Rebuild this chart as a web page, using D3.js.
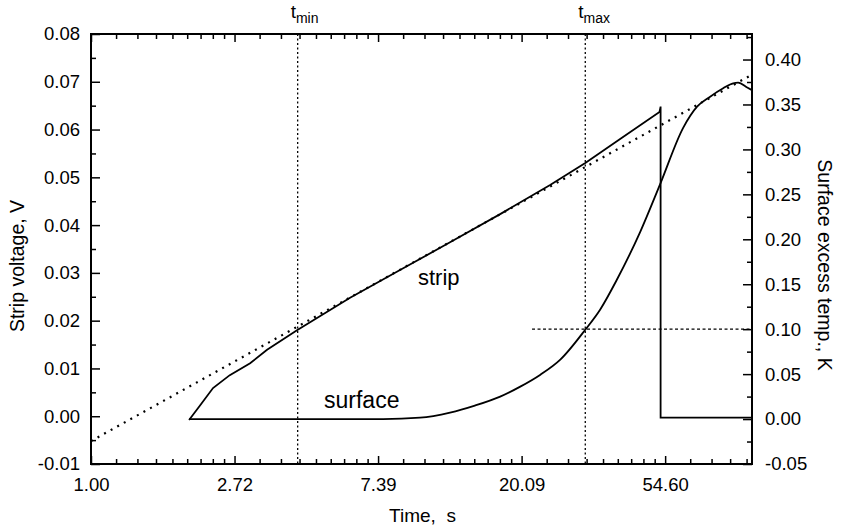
<!DOCTYPE html>
<html>
<head>
<meta charset="utf-8">
<style>
    body { margin: 0; background: #fff; }
    text { font-family: "Liberation Sans", Arial, sans-serif; fill: #000; }
</style>
</head>
<body>
<div id="vis"></div>
<script src="https://d3js.org/d3.v7.min.js"></script>
<script>
    // --- data ---
    // strip voltage (V) against time (s)
    let stripTime = [1.98, 2.14, 2.34, 2.63, 3.03, 3.41, 4.20, 6.08, 8.61, 12.2, 17.3, 24.5, 31.3, 39.9, 52.5, 52.9, 52.9, 100];
    let stripVolt = [-0.0008, 0.0023, 0.0059, 0.0086, 0.0111, 0.0139, 0.0180, 0.0248, 0.0306, 0.0364, 0.0423, 0.0484, 0.0530, 0.0580, 0.0637, 0.0648, -0.0003, -0.0003];

    // surface excess temperature (K) against time (s)
    let surfTime = [1.98, 4.29, 7.65, 9.9, 12.2, 14.5, 17.3, 19.9, 22.9, 26.3, 31.3, 34.7, 39.0, 45.9, 52.7, 61.9, 68.2, 74.7, 81.8, 87.7, 90.8, 96.7, 100];
    let surfTemp = [0.0, 0.0, 0.0, 0.0015, 0.0072, 0.015, 0.025, 0.0361, 0.0494, 0.0661, 0.0994, 0.1217, 0.155, 0.2083, 0.2611, 0.324, 0.3476, 0.3587, 0.368, 0.3736, 0.3742, 0.3689, 0.366];

    // dotted fit line (strip voltage)
    let fitTime = [1, 100];
    let fitVolt = [-0.0052, 0.0715];

    // marker lines
    let tMin = 4.22, tMax = 31.3;
    let refTemp = 0.10, refTempFrom = 21.6;

    // ticks
    let xMajor = [0, 1, 2, 3, 4].map(n => Math.exp(n));
    let leftMajor = [-0.01, 0.00, 0.01, 0.02, 0.03, 0.04, 0.05, 0.06, 0.07, 0.08];
    let rightMajor = [-0.05, 0.00, 0.05, 0.10, 0.15, 0.20, 0.25, 0.30, 0.35, 0.40];

    // --- layout ---
    let W = 843, H = 529;
    let L = 91, R = 752, T = 34, B = 464;

    let svg = d3.select("#vis").append("svg")
        .attr("width", W)
        .attr("height", H);

    let x = d3.scaleLog().domain([1, 100]).range([L, R]);
    let yL = d3.scaleLinear().domain([-0.01, 0.08]).range([B, T]);
    let yR = d3.scaleLinear().domain([-0.05, 0.4284]).range([B, T]);

    // minor ticks: 9 linear steps between e^n and e^(n+1)
    let xMinor = [];
    for (let n = 0; n < 5; n++) {
        let a = Math.exp(n), b = Math.exp(n + 1);
        for (let k = 1; k < 9; k++) {
            let v = a + k * (b - a) / 9;
            if (v < 100) xMinor.push(v);
        }
    }
    let leftMinor = leftMajor.slice(0, -1).map(v => v + 0.005);
    let rightMinor = rightMajor.map(v => v + 0.025).filter(v => v < 0.428);

    // plain hyphen for negatives, like the original
    let fmt2 = v => d3.format(".2f")(v).replace("\u2212", "-");
    let fs = "18.5px";

    function styleAxis(g) {
        g.select(".domain").remove();
        g.selectAll("line").attr("stroke", "#000").attr("stroke-width", 1.5);
        g.selectAll("text").style("font-size", fs).attr("font-family", null);
    }

    // bottom axis
    svg.append("g").attr("transform", "translate(0," + B + ")")
        .call(d3.axisBottom(x).tickValues(xMajor).tickFormat(fmt2).tickSizeInner(-8).tickSizeOuter(0).tickPadding(14))
        .call(styleAxis);
    svg.append("g").attr("transform", "translate(0," + B + ")")
        .call(d3.axisBottom(x).tickValues(xMinor).tickFormat("").tickSizeInner(-5).tickSizeOuter(0))
        .call(styleAxis);
    // top axis (mirror, no labels)
    svg.append("g").attr("transform", "translate(0," + T + ")")
        .call(d3.axisTop(x).tickValues(xMajor).tickFormat("").tickSizeInner(-8).tickSizeOuter(0))
        .call(styleAxis);
    svg.append("g").attr("transform", "translate(0," + T + ")")
        .call(d3.axisTop(x).tickValues(xMinor).tickFormat("").tickSizeInner(-5).tickSizeOuter(0))
        .call(styleAxis);

    // left axis
    svg.append("g").attr("transform", "translate(" + L + ",0)")
        .call(d3.axisLeft(yL).tickValues(leftMajor).tickFormat(fmt2).tickSizeInner(-9).tickSizeOuter(0).tickPadding(11))
        .call(styleAxis);
    svg.append("g").attr("transform", "translate(" + L + ",0)")
        .call(d3.axisLeft(yL).tickValues(leftMinor).tickFormat("").tickSizeInner(-5).tickSizeOuter(0))
        .call(styleAxis);

    // right axis
    svg.append("g").attr("transform", "translate(" + R + ",0)")
        .call(d3.axisRight(yR).tickValues(rightMajor).tickFormat(fmt2).tickSizeInner(-9).tickSizeOuter(0).tickPadding(13))
        .call(styleAxis);
    svg.append("g").attr("transform", "translate(" + R + ",0)")
        .call(d3.axisRight(yR).tickValues(rightMinor).tickFormat("").tickSizeInner(-5).tickSizeOuter(0))
        .call(styleAxis);

    // frame
    svg.append("rect")
        .attr("x", L).attr("y", T)
        .attr("width", R - L).attr("height", B - T)
        .attr("fill", "none")
        .attr("stroke", "#000")
        .attr("stroke-width", 2);

    // dotted marker lines
    [tMin, tMax].forEach(function (t) {
        svg.append("line")
            .attr("x1", x(t)).attr("x2", x(t))
            .attr("y1", T).attr("y2", B)
            .attr("stroke", "#000").attr("stroke-width", 1.3)
            .attr("stroke-dasharray", "2,2.5");
    });
    svg.append("line")
        .attr("x1", x(refTempFrom)).attr("x2", R)
        .attr("y1", yR(refTemp)).attr("y2", yR(refTemp))
        .attr("stroke", "#000").attr("stroke-width", 1.3)
        .attr("stroke-dasharray", "3,2.5");

    // fit line
    svg.append("path")
        .datum(d3.zip(fitTime, fitVolt))
        .attr("fill", "none")
        .attr("stroke", "#000")
        .attr("stroke-width", 2.2)
        .attr("stroke-dasharray", "2,5.5")
        .attr("d", d3.line().x(d => x(d[0])).y(d => yL(d[1])));

    // strip curve
    svg.append("path")
        .datum(d3.zip(stripTime, stripVolt))
        .attr("fill", "none")
        .attr("stroke", "#000")
        .attr("stroke-width", 1.8)
        .attr("d", d3.line().x(d => x(d[0])).y(d => yL(d[1])));

    // surface curve
    svg.append("path")
        .datum(d3.zip(surfTime, surfTemp))
        .attr("fill", "none")
        .attr("stroke", "#000")
        .attr("stroke-width", 1.8)
        .attr("d", d3.line().curve(d3.curveMonotoneX).x(d => x(d[0])).y(d => yR(d[1])));

    // curve labels
    svg.append("text").attr("x", 418).attr("y", 285).style("font-size", "22px").text("strip");
    svg.append("text").attr("x", 324).attr("y", 408).style("font-size", "23px").text("surface");

    // t_min / t_max labels
    [[tMin, "min"], [tMax, "max"]].forEach(function (d) {
        let t = svg.append("text")
            .attr("x", x(d[0]) - 7).attr("y", 18)
            .style("font-size", "19px");
        t.append("tspan").text("t");
        t.append("tspan").attr("dy", 5).style("font-size", "14px").text(d[1]);
    });

    // axis titles
    svg.append("text")
        .attr("x", (L + R) / 2 + 1).attr("y", 522)
        .style("font-size", "19px")
        .style("white-space", "pre")
        .attr("text-anchor", "middle")
        .text("Time,  s");

    svg.append("text")
        .attr("transform", "translate(23.5,266) rotate(-90)")
        .style("font-size", "19.5px")
        .attr("text-anchor", "middle")
        .text("Strip voltage, V");

    svg.append("text")
        .attr("transform", "translate(818,265) rotate(90)")
        .style("font-size", "19.5px")
        .attr("text-anchor", "middle")
        .text("Surface excess temp., K");
</script>
</body>
</html>
